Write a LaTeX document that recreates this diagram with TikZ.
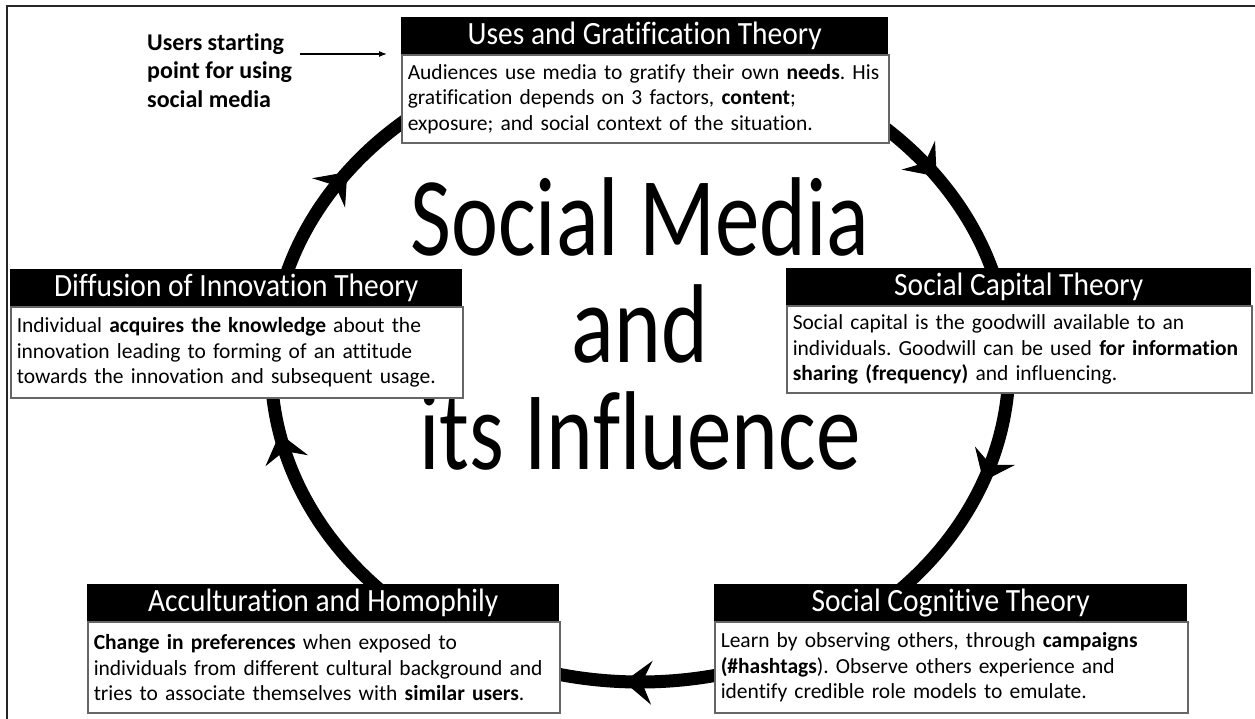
\documentclass[tikz,border=0pt]{standalone}
\usepackage{fontspec}
\setmainfont{Carlito}[Ligatures=NoCommon]
\usetikzlibrary{arrows.meta,calc}
\frenchspacing
% keep each printed line on one line
\newcommand{\oneline}[1]{\mbox{#1}}

\tikzset{
  hdr/.style={fill=black, minimum height=37, inner sep=0, anchor=north west},
  hdrtext/.style={text=white, font=\fontsize{29.5}{33}\selectfont,
    inner sep=0, yscale=1.1},
  bodytxt/.style={draw=black!60, line width=1.5, fill=white,
    font=\fontsize{21.5}{25.5}\selectfont\frenchspacing, align=left, inner xsep=6,
    inner ysep=0, anchor=north west},
  cycleline/.style={line width=13, black},
  cyclehead/.style={line width=1, black,
    -{Stealth[length=28pt, width=44pt, inset=10pt]}},
  pointer/.style={line width=1.2, black, -{Latex[length=8pt, width=6pt]}},
  frameline/.style={line width=2, black!85},
  bigtext/.style={font=\fontsize{89}{85}\selectfont, align=center, yscale=1.26},
  notetext/.style={font=\bfseries\fontsize{24}{28.5}\selectfont, align=left,
    inner sep=0, anchor=north west},
}

\begin{document}
\begin{tikzpicture}[x=1pt, y=-1pt]
  \useasboundingbox (0,0) rectangle (1255,719);
  \fill[white] (0,0) rectangle (1255,719);

  % outer frame (top and left edges)
  \coordinate (fTR) at (1255,6.5);
  \coordinate (fTL) at (6.5,6.5);
  \coordinate (fBL) at (6.5,719);
  \draw[frameline] (fTR) -- (fTL) -- (fBL);

  % the cycle
  \coordinate (C) at (640,365);
  \draw[cycleline] (C) ellipse [x radius=369, y radius=317];
  \foreach \t in {215, 321, 19, 90, 165} {
    \draw[cyclehead] ($(C)+({\t-6}:369 and 317)$)
      arc[start angle={\t-6}, end angle={\t+2.5}, x radius=369, y radius=317];
  }

  % centre title
  \node[bigtext] (title) at (640,324) {Social Media\\and\\its Influence};

  % Uses and Gratification
  \node[hdr, minimum width=487] (ugH) at (401,17) {};
  \node[hdrtext] (ugT) at (ugH.center) {Uses and Gratification Theory};
  \node[bodytxt, text width=475, minimum height=88] (ugB) at (ugH.south west)
    {\oneline{Audiences use media to gratify their own \textbf{needs}. His}\\
     \oneline{gratification depends on 3 factors, \textbf{content};}\\
     \oneline{exposure; and social context of the situation.}};

  % Social Capital
  \node[hdr, minimum width=465] (scH) at (786,268) {};
  \node[hdrtext] (scT) at (scH.center) {Social Capital Theory};
  \node[bodytxt, text width=453, minimum height=87] (scB) at (scH.south west)
    {\oneline{Social capital is the goodwill available to an}\\
     \oneline{individuals. Goodwill can be used \textbf{for information}}\\
     \oneline{\textbf{sharing (frequency)} and influencing.}};

  % Social Cognitive
  \node[hdr, minimum width=473] (sgH) at (714,584) {};
  \node[hdrtext] (sgT) at (sgH.center) {Social Cognitive Theory};
  \node[bodytxt, text width=461, minimum height=91] (sgB) at (sgH.south west)
    {\oneline{Learn by observing others, through \textbf{campaigns}}\\
     \oneline{\textbf{(\#hashtags}). Observe others experience and}\\
     \oneline{identify credible role models to emulate.}};

  % Acculturation and Homophily
  \node[hdr, minimum width=472] (ahH) at (87,584) {};
  \node[hdrtext] (ahT) at (ahH.center) {Acculturation and Homophily};
  \node[bodytxt, text width=460, minimum height=91] (ahB) at (ahH.south west)
    {\oneline{\textbf{Change in preferences} when exposed to}\\
     \oneline{individuals from different cultural background and}\\
     \oneline{tries to associate themselves with \textbf{similar users}.}};

  % Diffusion of Innovation
  \node[hdr, minimum width=452] (diH) at (10,269) {};
  \node[hdrtext] (diT) at (diH.center) {Diffusion of Innovation Theory};
  \node[bodytxt, text width=440, minimum height=91] (diB) at (diH.south west)
    {\oneline{Individual \textbf{acquires the knowledge} about the}\\
     \oneline{innovation leading to forming of an attitude}\\
     \oneline{towards the innovation and subsequent usage.}};

  % starting point note
  \node[notetext] (usr) at (147,33) {Users starting\\point for using\\social media};
  \coordinate (uArrE) at (387,54);
  \coordinate (uArrS) at ($(usr.east |- uArrE)+(8,0)$);
  \draw[pointer] (uArrS) -- (uArrE);
\end{tikzpicture}
\end{document}
